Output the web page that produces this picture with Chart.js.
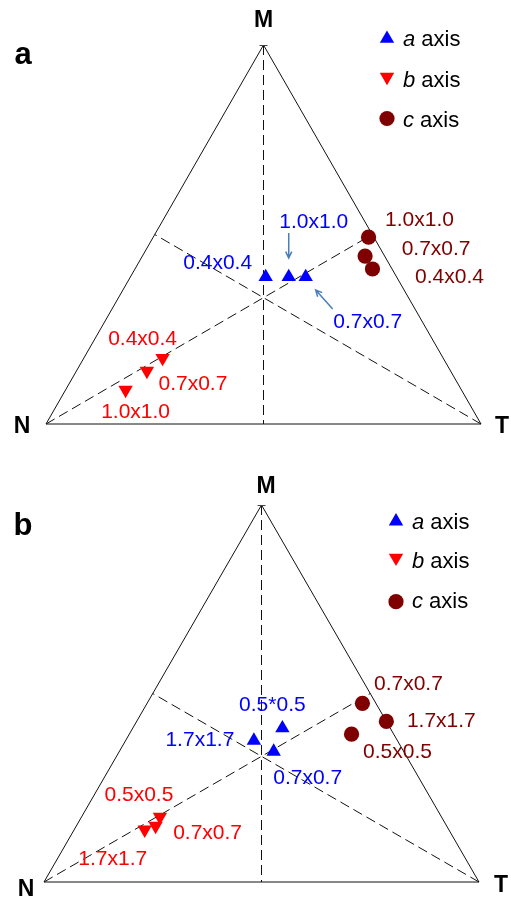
<!DOCTYPE html>
<html><head><meta charset="utf-8">
<script src="https://cdn.jsdelivr.net/npm/chart.js@4/dist/chart.umd.min.js"></script>
<style>
html,body{margin:0;padding:0;background:#fff;width:511px;height:902px;overflow:hidden}
canvas{position:absolute;left:0}
</style>
</head><body>
<canvas id="ca" width="511" height="451" style="top:0px"></canvas>
<canvas id="cb" width="511" height="451" style="top:451px"></canvas>
<script>
// ---------------- DATA (ternary composition, % of M, N, T) ----------------
const cornerNames = ['M', 'N', 'T'];
const seriesNames = ['a', 'b', 'c'];          // "a axis", "b axis", "c axis"
const panelNames = ['a', 'b'];

// Panel a
const pA_aLabels = ['0.4x0.4', '1.0x1.0', '0.7x0.7'];
const pA_aM = [38.8, 38.8, 38.8];
const pA_aN = [30.1, 24.8, 20.9];
const pA_aT = [31.1, 36.4, 40.3];

const pA_bLabels = ['0.4x0.4', '0.7x0.7', '1.0x1.0'];
const pA_bM = [17.4, 14.0, 9.0];
const pA_bN = [64.5, 69.8, 77.2];
const pA_bT = [18.1, 16.2, 13.8];

const pA_cLabels = ['1.0x1.0', '0.7x0.7', '0.4x0.4'];
const pA_cM = [49.3, 44.3, 40.9];
const pA_cN = [1.2, 4.5, 4.5];
const pA_cT = [49.5, 51.2, 54.6];

// Panel b
const pB_aLabels = ['1.7x1.7', '0.5*0.5', '0.7x0.7'];
const pB_aM = [37.5, 40.8, 34.6];
const pB_aN = [33.0, 24.8, 29.9];
const pB_aT = [29.5, 34.4, 35.5];

const pB_bLabels = ['1.7x1.7', '0.7x0.7', '0.5x0.5'];
const pB_bM = [13.9, 14.9, 17.3];
const pB_bN = [69.9, 66.9, 64.7];
const pB_bT = [16.2, 18.2, 18.0];

const pB_cLabels = ['0.7x0.7', '1.7x1.7', '0.5x0.5'];
const pB_cM = [47.4, 42.6, 39.2];
const pB_cN = [3.1, 0.0, 9.7];
const pB_cT = [49.5, 57.4, 51.1];

// ---------------- STYLE ----------------
const COLORS = { a: '#0000ff', b: '#ff0000', c: '#7f0000' };
const ARROW_COLOR = '#4a7ebb';
const FONT = '"Liberation Sans", Arial, Helvetica, sans-serif';

// label offsets (pixels from the marker) per panel/series
const styleA = {
  padding: { left: 46, right: 30, top: 45, bottom: 27 },
  labelOffsets: {
    a: [[-48, -14], [25, -55], [62, 45]],
    b: [[-20, -19], [46, 13], [10, 22]],
    c: [[51, -17], [71, -7], [77, 8]]
  },
  arrows: [ { s: 'a', i: 1, from: [0, -44], to: [0, -19] },
            { s: 'a', i: 2, from: [27, 32], to: [10, 13] } ],
  corners: { M: [0, -25], N: [-24, 2], T: [21, 2] },
  panelLabel: [23, 55],
  legend: { x: 387, textX: 403, markerY: [38.7, 77, 118.5], textY: [46, 86.8, 127] }
};
const styleB = {
  padding: { left: 44, right: 32, top: 54, bottom: 20 },
  labelOffsets: {
    a: [[-54, 0], [-10, -23], [34, 27]],
    b: [[-32, 30], [52, 7], [-21, -22]],
    c: [[46, -19], [55, 0], [46, 18]]
  },
  arrows: [],
  corners: { M: [4.5, -19], N: [-18, 7], T: [22, 3] },
  panelLabel: [23, 75],
  legend: { x: 396, textX: 412, markerY: [70.3, 106.8, 150.7], textY: [77.5, 117.3, 157.3] }
};

// ---------------- helpers ----------------
function toXY(M, N, T) {
  return M.map((m, i) => {
    const s = m + N[i] + T[i];
    return { x: (T[i] + m / 2) / s, y: m / s };
  });
}

function frameDatasets() {
  const base = { type: 'line', pointRadius: 0, borderColor: '#111', borderWidth: 1,
                 fill: false, tension: 0, clip: false, order: 5 };
  return [
    Object.assign({}, base, { data: [{x:0,y:0},{x:1,y:0},{x:0.5,y:1},{x:0,y:0}] }),
    Object.assign({}, base, { borderDash: [10, 5], data: [{x:0.5,y:1},{x:0.5,y:0}] }),
    Object.assign({}, base, { borderDash: [10, 5], data: [{x:0,y:0},{x:0.75,y:0.5}] }),
    Object.assign({}, base, { borderDash: [10, 5], data: [{x:1,y:0},{x:0.25,y:0.5}] })
  ];
}

function seriesDataset(key, pts, labels) {
  const ds = {
    type: 'scatter', label: key + ' axis', seriesKey: key, pointLabels: labels,
    data: pts, backgroundColor: COLORS[key], borderColor: COLORS[key], borderWidth: 0,
    clip: false, order: 1
  };
  if (key === 'a') { ds.pointStyle = 'triangle'; ds.pointRadius = 8.3; }
  if (key === 'b') { ds.pointStyle = 'triangle'; ds.pointRadius = 8.3; ds.rotation = 180; }
  if (key === 'c') { ds.pointStyle = 'circle'; ds.pointRadius = 7.6; }
  return ds;
}

function drawMarker(ctx, key, x, y) {
  ctx.save();
  ctx.fillStyle = COLORS[key];
  ctx.beginPath();
  if (key === 'c') {
    ctx.arc(x, y, 7.6, 0, Math.PI * 2);
  } else {
    const r = 8.3, sgn = key === 'a' ? 1 : -1;
    for (let k = 0; k < 3; k++) {
      const ang = k * 2 * Math.PI / 3;
      const px = x + Math.sin(ang) * r;
      const py = y - sgn * Math.cos(ang) * r;
      if (k === 0) ctx.moveTo(px, py); else ctx.lineTo(px, py);
    }
    ctx.closePath();
  }
  ctx.fill();
  ctx.restore();
}

function overlayPlugin(style, panelName) {
  return {
    id: 'overlay',
    afterDatasetsDraw(chart) {
      const ctx = chart.ctx;
      const xs = chart.scales.x, ys = chart.scales.y;
      // apex tick
      const ax = xs.getPixelForValue(0.5), ay = ys.getPixelForValue(1);
      ctx.save();
      ctx.strokeStyle = '#444'; ctx.lineWidth = 1;
      ctx.beginPath(); ctx.moveTo(ax - 4, ay + 0.5); ctx.lineTo(ax + 4, ay + 0.5); ctx.stroke();
      ctx.restore();
      // point labels
      ctx.save();
      ctx.font = '21px ' + FONT;
      ctx.textAlign = 'center';
      ctx.textBaseline = 'middle';
      chart.data.datasets.forEach((ds, di) => {
        if (!ds.seriesKey) return;
        const meta = chart.getDatasetMeta(di);
        meta.data.forEach((el, i) => {
          const off = style.labelOffsets[ds.seriesKey][i];
          ctx.fillStyle = COLORS[ds.seriesKey];
          ctx.fillText(ds.pointLabels[i], el.x + off[0], el.y + off[1]);
        });
      });
      ctx.restore();
      // arrows
      style.arrows.forEach(a => {
        const di = chart.data.datasets.findIndex(d => d.seriesKey === a.s);
        const el = chart.getDatasetMeta(di).data[a.i];
        const x1 = el.x + a.from[0], y1 = el.y + a.from[1];
        const x2 = el.x + a.to[0], y2 = el.y + a.to[1];
        const ang = Math.atan2(y2 - y1, x2 - x1);
        const h = 7;
        ctx.save();
        ctx.strokeStyle = ARROW_COLOR; ctx.lineWidth = 1.5;
        ctx.beginPath();
        ctx.moveTo(x1, y1); ctx.lineTo(x2, y2);
        ctx.moveTo(x2 - h * Math.cos(ang - 0.45), y2 - h * Math.sin(ang - 0.45));
        ctx.lineTo(x2, y2);
        ctx.lineTo(x2 - h * Math.cos(ang + 0.45), y2 - h * Math.sin(ang + 0.45));
        ctx.stroke();
        ctx.restore();
      });
      // corner labels
      ctx.save();
      ctx.font = 'bold 23px ' + FONT;
      ctx.fillStyle = '#000';
      ctx.textAlign = 'center'; ctx.textBaseline = 'middle';
      const vert = { M: [0.5, 1], N: [0, 0], T: [1, 0] };
      cornerNames.forEach(c => {
        const p = vert[c], o = style.corners[c];
        ctx.fillText(c, xs.getPixelForValue(p[0]) + o[0], ys.getPixelForValue(p[1]) + o[1] + 1);
      });
      // panel label
      ctx.font = 'bold 31px ' + FONT;
      ctx.fillText(panelName, style.panelLabel[0], style.panelLabel[1]);
      ctx.restore();
      // legend
      const lg = style.legend;
      seriesNames.forEach((s, i) => {
        drawMarker(ctx, s, lg.x, lg.markerY[i]);
        ctx.save();
        ctx.fillStyle = '#000';
        ctx.textAlign = 'left'; ctx.textBaseline = 'alphabetic';
        ctx.font = 'italic 22px ' + FONT;
        ctx.fillText(s, lg.textX, lg.textY[i]);
        const w = ctx.measureText(s).width;
        ctx.font = '22px ' + FONT;
        ctx.fillText(' axis', lg.textX + w, lg.textY[i]);
        ctx.restore();
      });
    }
  };
}

function makeChart(id, style, panelName, series) {
  const datasets = frameDatasets();
  series.forEach(s => datasets.push(seriesDataset(s.key, toXY(s.M, s.N, s.T), s.labels)));
  return new Chart(document.getElementById(id), {
    type: 'scatter',
    data: { datasets },
    options: {
      responsive: false, animation: false, devicePixelRatio: 1,
      layout: { padding: style.padding },
      plugins: { legend: { display: false }, tooltip: { enabled: false } },
      events: [],
      scales: {
        x: { type: 'linear', min: 0, max: 1, display: false },
        y: { type: 'linear', min: 0, max: 1, display: false }
      }
    },
    plugins: [overlayPlugin(style, panelName)]
  });
}

makeChart('ca', styleA, panelNames[0], [
  { key: 'a', labels: pA_aLabels, M: pA_aM, N: pA_aN, T: pA_aT },
  { key: 'b', labels: pA_bLabels, M: pA_bM, N: pA_bN, T: pA_bT },
  { key: 'c', labels: pA_cLabels, M: pA_cM, N: pA_cN, T: pA_cT }
]);
makeChart('cb', styleB, panelNames[1], [
  { key: 'a', labels: pB_aLabels, M: pB_aM, N: pB_aN, T: pB_aT },
  { key: 'b', labels: pB_bLabels, M: pB_bM, N: pB_bN, T: pB_bT },
  { key: 'c', labels: pB_cLabels, M: pB_cM, N: pB_cN, T: pB_cT }
]);
</script>
</body></html>
